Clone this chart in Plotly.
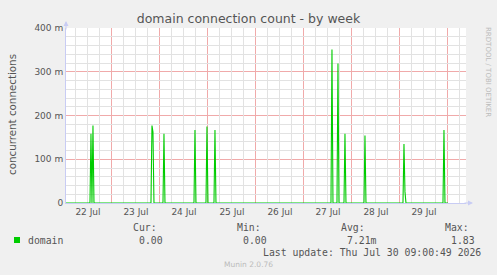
import plotly.graph_objects as go

# ---- data ----
times = [
    "2026-07-22 01:00",
    "2026-07-22 13:00", "2026-07-22 13:30", "2026-07-22 14:00", "2026-07-22 14:30", "2026-07-22 15:00",
    "2026-07-23 19:30", "2026-07-23 20:00", "2026-07-23 20:30", "2026-07-23 21:00",
    "2026-07-24 01:30", "2026-07-24 02:00", "2026-07-24 02:30",
    "2026-07-24 17:00", "2026-07-24 17:30", "2026-07-24 18:00",
    "2026-07-24 23:00", "2026-07-24 23:30", "2026-07-25 00:00",
    "2026-07-25 03:00", "2026-07-25 03:30", "2026-07-25 04:00",
    "2026-07-27 13:30", "2026-07-27 14:00", "2026-07-27 14:30",
    "2026-07-27 16:30", "2026-07-27 17:00", "2026-07-27 17:30",
    "2026-07-27 20:00", "2026-07-27 20:30", "2026-07-27 21:00",
    "2026-07-28 06:00", "2026-07-28 06:30", "2026-07-28 07:00",
    "2026-07-29 01:30", "2026-07-29 02:00", "2026-07-29 02:30", "2026-07-29 03:00",
    "2026-07-29 21:30", "2026-07-29 22:00", "2026-07-29 22:30",
    "2026-07-30 00:00",
]
domain = [
    0,
    0, 0.158, 0, 0.177, 0,
    0, 0.177, 0.162, 0,
    0, 0.158, 0,
    0, 0.167, 0,
    0, 0.175, 0,
    0, 0.167, 0,
    0, 0.351, 0,
    0, 0.319, 0,
    0, 0.158, 0,
    0, 0.154, 0,
    0, 0.135, 0.026, 0,
    0, 0.167, 0,
    0,
]
y_tickvals = [0, 0.1, 0.2, 0.3, 0.4]
y_ticktext = ["0", "100 m", "200 m", "300 m", "400 m"]
x_range = ["2026-07-22 01:00:49", "2026-07-30 09:00:49"]
days = ["2026-07-22", "2026-07-23", "2026-07-24", "2026-07-25", "2026-07-26",
        "2026-07-27", "2026-07-28", "2026-07-29", "2026-07-30"]

title = "domain connection count - by week"
y_title = "concurrent connections"
legend_name = "domain"
stat_headers = ["Cur:", "Min:", "Avg:", "Max:"]
stat_values = ["0.00", "0.00", "7.21m", "1.83"]
last_update = "Last update: Thu Jul 30 09:00:49 2026"
footer = "Munin 2.0.76"
side_text = "RRDTOOL / TOBI OETIKER"

# ---- grid positions (minor grid only between major lines) ----
x_minor = [f"{d} {h}" for d in days for h in ("06:00", "12:00", "18:00")]
y_minor = [round(m + k * 0.02, 3) for m in (0, 0.1, 0.2, 0.3) for k in (1, 2, 3, 4)]

# ---- layout geometry ----
W, H = 497, 275
L, R, T, B = 66, 466, 28, 203


def px(x):
    return (x - L) / (R - L)


def py(y):
    return (B - y) / (B - T)


TXT = "#555555"
MONO = "DejaVu Sans Mono"
SANS = "DejaVu Sans"
AXIS_C = "#C8CCF4"
MAJOR = "#F0AAAA"
MINOR = "#E2E2E2"

fig = go.Figure()
# invisible carrier for the minor-grid axes
fig.add_trace(go.Scatter(x=[], y=[], xaxis="x2", yaxis="y2", mode="lines",
                         hoverinfo="skip", showlegend=False))
fig.add_trace(go.Scatter(
    x=times, y=domain, mode="lines",
    line=dict(color="#00CC00", width=1.1),
    name=legend_name, hoverinfo="skip",
))

fig.update_layout(
    width=W, height=H,
    margin=dict(l=L, r=W - R, t=T, b=H - B, pad=0),
    paper_bgcolor="#F0F0F0", plot_bgcolor="#FFFFFF",
    showlegend=False,
    title=dict(text=title, x=0.5, xref="container", xanchor="center",
               y=1 - 19 / H, yref="container", yanchor="middle",
               font=dict(family=SANS, size=12.5, color=TXT)),
    xaxis=dict(
        type="date", range=x_range,
        tick0="2026-07-22", dtick=86400000, tickformat="%d %b",
        ticklabelmode="period",
        showgrid=True, gridcolor=MAJOR, griddash="solid", gridwidth=1,
        showline=True, linecolor=AXIS_C, linewidth=1,
        ticks="", tickfont=dict(family=SANS, size=9, color=TXT),
        layer="below traces", zeroline=False,
    ),
    yaxis=dict(
        range=[0, 0.4], tickvals=y_tickvals, ticktext=y_ticktext,
        showgrid=True, gridcolor=MAJOR, griddash="solid", gridwidth=1,
        showline=True, linecolor=AXIS_C, linewidth=1,
        ticks="", tickfont=dict(family=SANS, size=9, color=TXT),
        layer="below traces", zeroline=False,
    ),
    xaxis2=dict(
        type="date", range=x_range, overlaying="x", side="bottom",
        tickmode="array", tickvals=x_minor, showticklabels=False, ticks="",
        showgrid=True, gridcolor=MINOR, griddash="solid", gridwidth=1,
        showline=False, zeroline=False, layer="below traces",
    ),
    yaxis2=dict(
        range=[0, 0.4], overlaying="y", side="left",
        tickmode="array", tickvals=y_minor, showticklabels=False, ticks="",
        showgrid=True, gridcolor=MINOR, griddash="solid", gridwidth=1,
        showline=False, zeroline=False, layer="below traces",
    ),
)

ann = []
# axis arrows
ann.append(dict(x=px(L), y=py(21), xref="paper", yref="paper", text="",
                showarrow=True, axref="pixel", ayref="pixel", ax=0, ay=10,
                arrowhead=2, arrowsize=1, arrowwidth=1, arrowcolor=AXIS_C))
ann.append(dict(x=px(473), y=py(B), xref="paper", yref="paper", text="",
                showarrow=True, axref="pixel", ayref="pixel", ax=-10, ay=0,
                arrowhead=2, arrowsize=1, arrowwidth=1, arrowcolor=AXIS_C))
# y axis title
ann.append(dict(x=px(12), y=py(115), xref="paper", yref="paper", text=y_title,
                textangle=-90, showarrow=False, xanchor="center", yanchor="middle",
                font=dict(family=SANS, size=10.3, color=TXT)))
# side text
ann.append(dict(x=px(488), y=py(25), xref="paper", yref="paper", text=side_text,
                textangle=90, showarrow=False, xanchor="center", yanchor="top",
                font=dict(family=SANS, size=7, color="#BBBBBB")))
# legend row
ann.append(dict(x=px(26), y=py(240), xref="paper", yref="paper", text=legend_name,
                showarrow=False, xanchor="left", yanchor="middle",
                font=dict(family=MONO, size=9.8, color=TXT)))
head_right = [159, 263, 367, 471]
val_right = [165, 269, 379, 477]
for h, v, hr, vr in zip(stat_headers, stat_values, head_right, val_right):
    ann.append(dict(x=px(hr), y=py(227), xref="paper", yref="paper", text=h,
                    showarrow=False, xanchor="right", yanchor="middle",
                    font=dict(family=MONO, size=9.8, color=TXT)))
    ann.append(dict(x=px(vr), y=py(240), xref="paper", yref="paper", text=v,
                    showarrow=False, xanchor="right", yanchor="middle",
                    font=dict(family=MONO, size=9.8, color=TXT)))
ann.append(dict(x=px(483), y=py(252), xref="paper", yref="paper", text=last_update,
                showarrow=False, xanchor="right", yanchor="middle",
                font=dict(family=MONO, size=9.8, color=TXT)))
ann.append(dict(x=px(248), y=py(264), xref="paper", yref="paper", text=footer,
                showarrow=False, xanchor="center", yanchor="middle",
                font=dict(family=SANS, size=7.5, color="#BBBBBB")))
fig.update_layout(annotations=ann)

fig.add_shape(type="rect", xref="paper", yref="paper",
              x0=px(14), x1=px(20), y0=py(243), y1=py(237),
              fillcolor="#00CC00", line=dict(width=0))

fig.write_html("out.html")
